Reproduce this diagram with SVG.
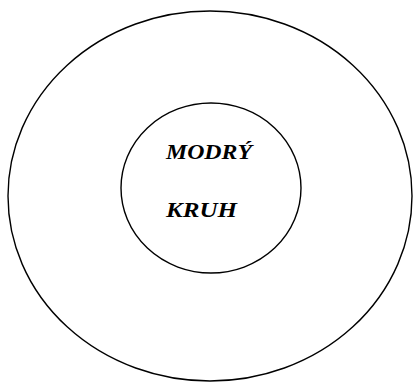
<svg xmlns="http://www.w3.org/2000/svg" width="413" height="383" viewBox="0 0 413 383">
<style>
.c{fill:none;stroke:#000;stroke-width:1.4}
.t{font-family:"Liberation Serif",serif;font-style:italic;font-weight:bold;font-size:21px;fill:#000}
</style>
<rect width="413" height="383" fill="#fff"/>
<g id="outer"><ellipse class="c" cx="210" cy="196" rx="202" ry="185"/></g>
<g id="inner"><ellipse class="c" cx="211" cy="188" rx="90" ry="85"/>
<text class="t" x="166" y="159" textLength="86" lengthAdjust="spacingAndGlyphs">MODRÝ</text>
<text class="t" x="166" y="217" textLength="71" lengthAdjust="spacingAndGlyphs">KRUH</text>
</g>
<g id="connectors"/>
</svg>
